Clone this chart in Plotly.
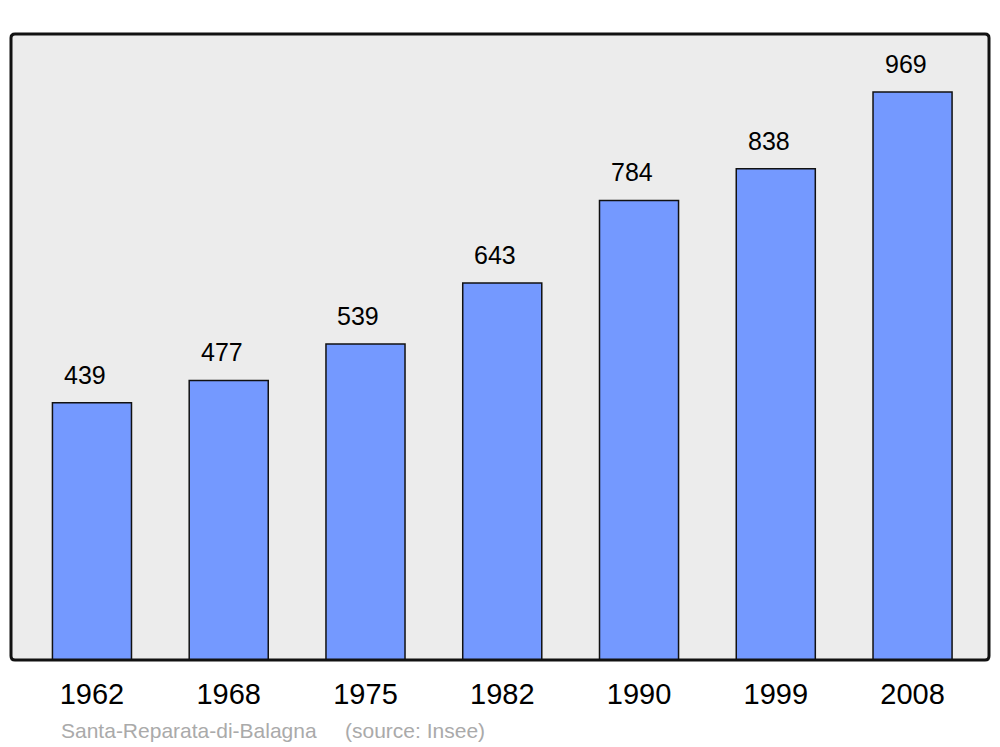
import plotly.graph_objects as go

years = ["1962", "1968", "1975", "1982", "1990", "1999", "2008"]
population = [439, 477, 539, 643, 784, 838, 969]
caption_place = "Santa-Reparata-di-Balagna"
caption_source = "(source: Insee)"

OFF = 8  # default page body margin
W, H = 1000 - OFF, 747 - OFF
ml, mt = 11 - OFF, 34 - OFF
mr = W - (989 - OFF)
mb = H - (660 - OFF)
pw, ph = W - ml - mr, H - mt - mb

xs = list(range(len(years)))
FONT = "Liberation Sans, Arial"

fig = go.Figure()
fig.add_trace(go.Bar(
    x=xs, y=population, width=0.578,
    marker=dict(color="#7499ff", line=dict(color="#111111", width=1.5)),
    hoverinfo="skip",
))

for i, v in zip(xs, population):
    fig.add_annotation(x=i, y=v, text=str(v), showarrow=False,
                       yshift=28, xshift=-7, yanchor="middle",
                       font=dict(family=FONT, size=25, color="#000"))

cap_y = -(730 - 660) / ph
fig.add_annotation(xref="paper", yref="paper", x=(59 - 11) / pw, y=cap_y,
                   text=caption_place, showarrow=False, xanchor="left", yanchor="middle",
                   font=dict(family=FONT, size=21, color="#aaaaaa"))
fig.add_annotation(xref="paper", yref="paper", x=(343 - 11) / pw, y=cap_y,
                   text=caption_source, showarrow=False, xanchor="left", yanchor="middle",
                   font=dict(family=FONT, size=21, color="#aaaaaa"))

# rounded frame
rx, ry = 4 / pw, 4 / ph
path = (f"M {rx},0 L {1-rx},0 Q 1,0 1,{ry} L 1,{1-ry} Q 1,1 {1-rx},1 "
        f"L {rx},1 Q 0,1 0,{1-ry} L 0,{ry} Q 0,0 {rx},0 Z")
fig.add_shape(type="path", xref="paper", yref="paper", path=path,
              line=dict(color="#111111", width=3), fillcolor="rgba(0,0,0,0)", layer="above")

fig.update_layout(
    width=W, height=H,
    margin=dict(l=ml, r=mr, t=mt, b=mb, autoexpand=False),
    paper_bgcolor="white", plot_bgcolor="#ececec",
    showlegend=False,
    xaxis=dict(range=[-0.592, 6.559], tickmode="array", tickvals=xs, ticktext=years,
               showgrid=False, zeroline=False, showline=False, ticks="",
               ticklabelstandoff=14,
               tickfont=dict(family=FONT, size=29, color="#000")),
    yaxis=dict(range=[0, 1068], showgrid=False, zeroline=False, showticklabels=False,
               showline=False, ticks=""),
)

fig.write_html("out.html")
